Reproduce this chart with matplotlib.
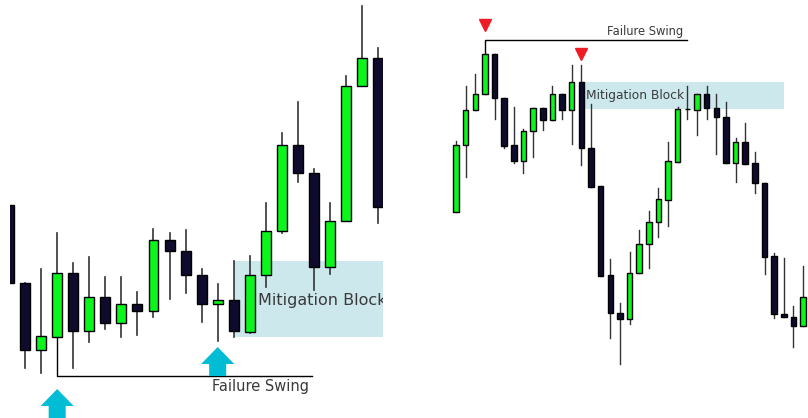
import matplotlib.pyplot as plt
from matplotlib.patches import Polygon, Rectangle

# left panel candles (open, high, low, close)
left_open = [213, 135, 68, 81, 145, 87, 121, 95, 114, 107, 178, 167,
             143, 114, 118, 86, 143, 187, 273, 245, 151, 197, 332, 360]
left_high = [213, 135, 149, 185, 155, 161, 141, 141, 126, 189, 185, 188,
             149, 134, 157, 162, 215, 285, 316, 249, 215, 342, 412, 370]
left_low = [135, 50, 45, 81, 50, 76, 89, 81, 83, 101, 119, 125,
            96, 77, 81, 85, 131, 185, 236, 128, 144, 197, 332, 195]
left_close = [135, 68, 82, 145, 87, 121, 95, 114, 107, 178, 167, 143,
              114, 118, 87, 143, 187, 273, 245, 151, 197, 332, 360, 211]

# right panel candles
right_open = [206, 273, 308, 324, 364, 320, 273, 257, 287, 310, 298, 324, 308,
              336, 270, 232, 143, 105, 99, 145, 174, 196, 218, 256, 309, 308,
              324, 310, 301, 255, 276, 255, 235, 162, 104, 101, 92]
right_high = [277, 332, 344, 364, 364, 320, 311, 289, 310, 310, 332, 324, 353,
              353, 314, 232, 159, 115, 166, 188, 207, 230, 276, 311, 332, 324,
              332, 324, 316, 280, 295, 266, 235, 165, 160, 112, 152]
right_low = [206, 241, 308, 324, 299, 270, 255, 245, 261, 288, 298, 299, 274,
             253, 231, 142, 80, 54, 94, 145, 150, 181, 192, 256, 299, 283,
             299, 264, 255, 236, 254, 225, 144, 100, 101, 71, 92]
right_close = [273, 308, 324, 364, 320, 272, 257, 287, 310, 298, 324, 308, 336,
               270, 231, 142, 105, 99, 145, 174, 196, 219, 257, 309, 309, 324,
               310, 301, 255, 276, 254, 235, 161, 104, 101, 92, 121]

# annotations
left_swing_from, left_swing_to, left_swing_level = 3, 18.9, 42
left_block = (14.0, 23.5, 81, 157)
left_arrows = [(3, 29, -10), (13, 71, 42)]
right_swing_from, right_swing_to, right_swing_level = 3, 23.96, 378
right_block = (13.17, 34.02, 309, 336)
right_tops = [(3, 393), (12.97, 364)]

GREEN = "#0cf51c"
DARK = "#0e0b2c"
WICK = "#333333"
BLOCK = "#cce8ec"
ARROW = "#00bcd4"
TEXT = "#3a3a3a"


def candles(ax, o, h, l, c, width, lw):
    for i in range(len(o)):
        ax.plot([i, i], [l[i], h[i]], color=WICK, lw=lw, zorder=2)
        bottom = min(o[i], c[i])
        height = abs(c[i] - o[i])
        color = GREEN if c[i] > o[i] else DARK
        ax.bar(i, height, width, bottom=bottom, color=color,
               edgecolor="black", linewidth=1.0, zorder=3)


def up_arrow(ax, x, top, bottom, head_w, shaft_w, head_h):
    pts = [(x, top), (x + head_w / 2, top - head_h), (x + shaft_w / 2, top - head_h),
           (x + shaft_w / 2, bottom), (x - shaft_w / 2, bottom),
           (x - shaft_w / 2, top - head_h), (x - head_w / 2, top - head_h)]
    ax.add_patch(Polygon(pts, closed=True, color=ARROW, lw=0, zorder=4))


fig = plt.figure(figsize=(8.08, 4.18), dpi=100)
ax1 = fig.add_axes([10 / 808, 0, 373 / 808, 1])
ax2 = fig.add_axes([445 / 808, 0, 363 / 808, 1])

# left panel
x0, x1, y0, y1 = left_block
ax1.add_patch(Rectangle((x0, y0), x1 - x0, y1 - y0, color=BLOCK, lw=0, zorder=1))
candles(ax1, left_open, left_high, left_low, left_close, 0.62, 1.2)
ax1.text(15.5, 118, "Mitigation Block", fontsize=11.5, color=TEXT,
         ha="left", va="center", zorder=5, clip_on=True)
ax1.plot([left_swing_from, left_swing_from, left_swing_to],
         [left_low[left_swing_from], left_swing_level, left_swing_level],
         color="black", lw=1.0, zorder=2)
ax1.text(15.65, 31, "Failure Swing", fontsize=10.5, color=TEXT,
         ha="center", va="center")
for x, top, bottom in left_arrows:
    up_arrow(ax1, x, top, bottom, 2.06, 1.06, 17)
ax1.set_xlim(0.06, 23.3)
ax1.set_ylim(0, 418)
ax1.axis("off")

# right panel
x0, x1, y0, y1 = right_block
ax2.add_patch(Rectangle((x0, y0), x1 - x0, y1 - y0, color=BLOCK, lw=0, zorder=1))
candles(ax2, right_open, right_high, right_low, right_close, 0.57, 1.0)
ax2.text(13.45, 322, "Mitigation Block", fontsize=8.8, color=TEXT,
         ha="left", va="center", zorder=5)
ax2.plot([right_swing_from, right_swing_from, right_swing_to],
         [right_high[right_swing_from], right_swing_level, right_swing_level],
         color="black", lw=1.0, zorder=2)
ax2.text(23.55, 387, "Failure Swing", fontsize=8.3, color=TEXT,
         ha="right", va="center")
for x, y in right_tops:
    ax2.plot(x, y, marker="v", color="#ee1c25", markersize=9, zorder=5)
ax2.set_xlim(-1.14, 36.51)
ax2.set_ylim(0, 418)
ax2.axis("off")

fig.savefig("out.png", dpi=100)
